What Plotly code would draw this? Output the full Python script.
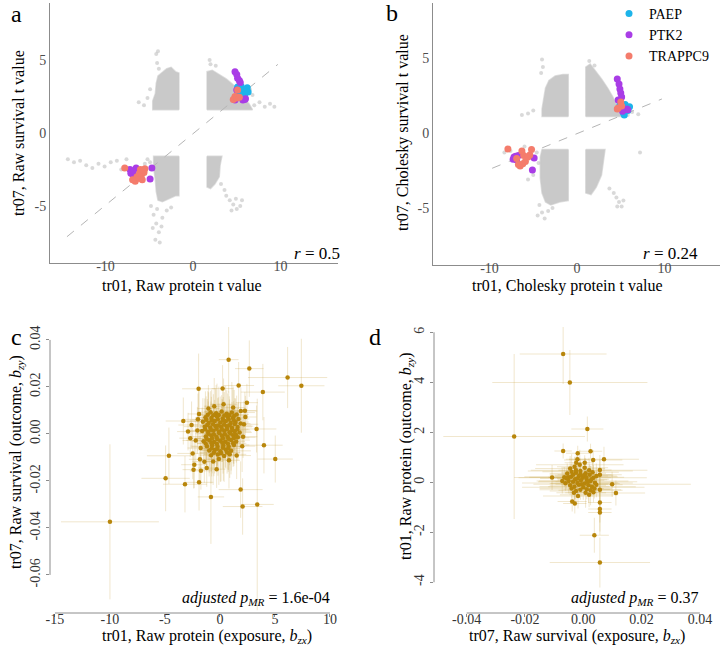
import plotly.graph_objects as go

FONT = "Liberation Serif"
W, H = 720, 648

# ---------------- Panel a: raw t values ----------------
a_block_tl = [(-1.6, 1.6), (-4.6, 1.6), (-4.6, 2.2), (-4.3, 2.7), (-4.2, 3.4), (-4.0, 3.9), (-3.6, 4.1),
              (-3.0, 4.4), (-2.5, 4.5), (-2.0, 4.2), (-1.6, 4.1)]
a_block_tr = [(1.6, 1.6), (1.6, 4.2), (2.2, 4.3), (3.0, 4.0), (3.8, 3.7), (4.6, 3.3), (5.2, 2.9),
              (5.8, 2.4), (6.4, 2.0), (6.8, 1.6)]
a_block_bl = [(-1.6, -1.6), (-4.5, -1.6), (-4.5, -2.4), (-4.3, -3.2), (-4.2, -4.0), (-4.0, -4.6),
              (-3.5, -4.7), (-2.8, -4.5), (-2.0, -4.3), (-1.6, -4.3)]
a_block_br = [(1.6, -1.6), (1.6, -3.7), (2.0, -3.8), (2.5, -3.5), (3.0, -3.0), (3.1, -2.2), (3.3, -1.6)]
a_sparse = [(-14.3, -1.8), (-13.6, -2.0), (-12.9, -1.9), (-12.2, -2.2), (-11.5, -2.4), (-10.8, -2.1),
            (-10.1, -2.3), (-9.4, -2.0), (-8.7, -1.9), (-8.2, -2.5), (-7.6, -1.8), (-5.2, -1.8),
            (-5.5, -2.1), (-4.9, -2.0), (-4.8, -5.0), (-4.5, -5.6), (-4.2, -6.2), (-3.9, -6.8),
            (-4.3, -7.3), (-3.5, -5.8), (-3.0, -5.3), (-2.5, -5.1), (-4.6, -6.5), (-3.8, -7.5),
            (-4.1, -5.2), (-3.6, -6.4), (3.8, -4.3), (4.2, -4.6), (4.6, -4.9), (5.0, -5.2), (5.4, -5.0),
            (4.4, -5.3), (5.6, -4.6), (3.6, -3.9), (3.2, -3.5), (4.9, -4.5), (7.0, 1.9), (7.6, 2.1),
            (8.2, 1.8), (8.8, 2.0), (9.3, 1.8), (6.8, 2.6), (6.5, 3.0), (2.0, 4.7), (2.6, 4.6),
            (1.9, 5.0), (-5.6, 1.9), (-6.2, 2.1), (-5.2, 2.4), (-4.9, 3.0), (-4.2, 5.4), (-4.0, 5.6),
            (-4.1, 4.8), (-3.9, 4.4)]
a_fit_x = [-14.4, 9.7]
a_fit_y = [-7.1, 4.7]
a_paep = [(5.1, 3.15), (5.6, 2.95), (6.2, 3.1), (6.3, 2.8), (5.7, 2.6), (5.3, 2.7), (5.9, 2.5), (5.5, 3.2)]
a_ptk2 = [(4.8, 4.2), (5.0, 4.0), (5.1, 3.75), (5.3, 3.6), (5.4, 3.45), (5.7, 2.26), (5.9, 2.3),
          (4.8, 2.26), (5.0, 2.95), (6.0, 2.35), (-7.0, -2.65), (-7.2, -2.5), (-6.9, -2.8),
          (-6.5, -2.4), (-4.7, -2.4), (-4.9, -3.15), (-7.1, -2.75), (-6.8, -2.6)]
a_trappc9 = [(5.1, 2.95), (4.8, 2.5), (4.6, 2.3), (5.0, 2.4), (5.3, 2.45), (-7.8, -2.4), (-6.6, -3.3),
             (-6.2, -3.1), (-5.9, -2.9), (-5.6, -2.7), (-6.0, -2.5), (-5.5, -2.45), (-5.8, -3.2),
             (-6.4, -3.0), (-6.1, -2.75), (-5.7, -2.55), (-6.9, -3.2)]

# ---------------- Panel b: Cholesky t values ----------------
b_block_tl = [(-1.0, 1.1), (-4.0, 1.1), (-4.0, 1.6), (-3.8, 2.4), (-3.6, 3.0), (-3.2, 3.5), (-2.5, 3.8),
              (-1.6, 3.9), (-1.0, 3.9)]
b_block_tr = [(1.0, 1.1), (1.0, 4.4), (1.5, 4.6), (2.2, 4.1), (2.8, 3.6), (3.5, 3.0), (4.1, 2.4),
              (4.7, 1.6), (5.0, 1.1)]
b_block_bl = [(-1.0, -1.1), (-4.0, -1.1), (-4.2, -1.6), (-4.2, -3.0), (-4.0, -4.0), (-3.6, -4.6),
              (-3.0, -4.8), (-2.0, -4.6), (-1.0, -4.5)]
b_block_br = [(1.0, -1.1), (1.0, -4.0), (1.6, -4.1), (2.2, -3.6), (2.8, -2.8), (3.0, -2.0), (3.2, -1.1)]
b_sparse = [(5.3, 1.3), (5.8, 1.2), (6.3, 1.4), (7.0, 1.25), (1.4, 4.8), (2.0, 4.5), (7.2, -1.3),
            (4.2, -4.0), (4.5, -4.3), (4.8, -4.6), (5.1, -4.9), (4.6, -4.9), (5.3, -4.5), (3.7, -3.7),
            (-4.3, -4.8), (-4.0, -5.3), (-3.7, -5.7), (-4.5, -5.5), (-3.3, -5.2), (-2.8, -5.0),
            (-4.0, 4.9), (-3.9, 4.4), (-4.1, 4.0), (-5.0, 1.5), (-5.6, 1.3), (-6.3, 1.2), (-7.6, -1.2),
            (-6.0, -0.9), (-4.6, -1.3), (-4.4, -2.0), (-5.0, -2.8), (-8.3, -1.3), (-5.6, -3.1)]
b_fit_x = [-9.7, 9.7]
b_fit_y = [-2.35, 2.27]
b_paep = [(4.9, 1.87), (5.3, 1.33), (5.6, 1.7), (5.8, 1.5), (5.4, 1.2), (5.1, 1.6), (6.0, 1.75), (5.5, 1.9)]
b_ptk2 = [(4.6, 3.6), (4.8, 3.27), (4.9, 2.93), (5.0, 2.67), (5.1, 2.4), (4.7, 2.2), (5.7, 1.6),
          (5.8, 1.55), (5.2, 1.45), (-7.2, -1.6), (-7.3, -1.75), (-6.7, -1.5), (-4.9, -1.67),
          (-5.1, -2.47), (-7.0, -1.55), (-6.9, -1.8)]
b_trappc9 = [(4.7, 1.67), (5.0, 2.07), (4.6, 1.6), (5.1, 1.8), (-7.9, -1.07), (-6.9, -1.7), (-6.3, -1.2),
             (-6.1, -1.5), (-5.4, -1.47), (-5.2, -1.1), (-6.5, -2.2), (-6.2, -2.05), (-5.9, -1.9),
             (-5.6, -1.6), (-6.7, -2.1)]

# ---------------- Panel c: MR, protein -> survival (bzx, bzy, se_x, se_y) ----------------
c_points = [
    (-10.0, -0.0374, 4.45, 0.033), (0.79, 0.0316, 0.9, 0.014), (2.67, 0.0278, 1.3, 0.012),
    (6.15, 0.0240, 3.6, 0.013), (7.40, 0.0205, 2.1, 0.020), (1.70, 0.0206, 1.4, 0.010),
    (3.90, 0.0178, 2.0, 0.012), (-1.94, 0.0192, 1.5, 0.015), (0.24, 0.0193, 1.0, 0.010),
    (2.45, 0.0133, 1.0, 0.008), (2.27, 0.0099, 1.0, 0.008), (3.33, 0.0021, 1.8, 0.010),
    (4.00, -0.0048, 1.7, 0.012), (5.03, -0.0107, 1.6, 0.010), (-3.33, 0.0055, 1.6, 0.010),
    (-4.64, -0.0093, 2.0, 0.012), (-4.94, -0.0189, 2.2, 0.014), (-3.18, -0.0214, 2.0, 0.012),
    (-2.33, -0.0131, 1.2, 0.010), (-1.90, -0.0206, 1.3, 0.012), (-0.82, -0.0268, 1.2, 0.020),
    (1.88, -0.0237, 2.0, 0.012), (2.06, -0.0309, 1.8, 0.012), (3.39, -0.0300, 1.5, 0.045),
    (-2.40, -0.0152, 1.0, 0.008), (-1.73, -0.0157, 1.0, 0.008), (-2.70, -0.0018, 1.0, 0.008),
    (-2.90, 0.0010, 1.0, 0.008), (-1.20, -0.0145, 0.8, 0.008), (-0.30, -0.0150, 0.8, 0.008),
    (-0.85, 0.0092, 1.2, 0.009), (-0.35, 0.0088, 0.8, 0.012), (0.15, 0.0095, 1.6, 0.007),
    (0.62, 0.0086, 0.9, 0.010), (1.08, 0.0091, 2.1, 0.013), (1.52, 0.0083, 1.1, 0.008),
    (-1.32, 0.0071, 0.7, 0.011), (-0.78, 0.0068, 1.4, 0.009), (-0.27, 0.0074, 1.0, 0.014),
    (0.24, 0.0066, 1.8, 0.008), (0.71, 0.0072, 0.8, 0.010), (1.18, 0.0069, 1.3, 0.012),
    (1.68, 0.0064, 1.0, 0.007), (-1.55, 0.0052, 1.5, 0.010), (-1.02, 0.0047, 0.9, 0.013),
    (-0.48, 0.0055, 2.2, 0.009), (0.03, 0.0049, 1.1, 0.011), (0.52, 0.0054, 0.7, 0.015),
    (0.98, 0.0046, 1.6, 0.008), (1.42, 0.0051, 1.2, 0.010), (1.88, 0.0044, 0.9, 0.009),
    (-1.38, 0.0031, 1.9, 0.012), (-0.88, 0.0027, 1.0, 0.008), (-0.41, 0.0034, 1.4, 0.016),
    (0.12, 0.0029, 0.8, 0.010), (0.63, 0.0033, 2.4, 0.009), (1.09, 0.0026, 1.1, 0.011),
    (1.61, 0.0030, 1.3, 0.008), (-1.62, 0.0012, 1.2, 0.010), (-1.07, 0.0008, 0.8, 0.013),
    (-0.58, 0.0014, 1.7, 0.009), (-0.08, 0.0009, 1.0, 0.012), (0.41, 0.0013, 2.0, 0.008),
    (0.88, 0.0007, 0.9, 0.014), (1.34, 0.0011, 1.5, 0.010), (1.79, 0.0006, 1.1, 0.009),
    (-1.28, -0.0011, 1.4, 0.011), (-0.79, -0.0007, 0.7, 0.008), (-0.32, -0.0013, 1.2, 0.013),
    (0.19, -0.0008, 1.9, 0.010), (0.69, -0.0012, 1.0, 0.009), (1.21, -0.0006, 0.8, 0.012),
    (1.63, -0.0014, 1.6, 0.010), (-1.49, -0.0031, 1.1, 0.009), (-0.97, -0.0027, 2.1, 0.014),
    (-0.52, -0.0034, 0.9, 0.010), (0.02, -0.0029, 1.3, 0.008), (0.49, -0.0033, 1.0, 0.011),
    (1.02, -0.0026, 1.7, 0.013), (1.48, -0.0032, 0.8, 0.009), (-1.18, -0.0052, 1.5, 0.010),
    (-0.71, -0.0048, 1.0, 0.012), (-0.22, -0.0055, 2.3, 0.008), (0.31, -0.0049, 0.9, 0.015),
    (0.79, -0.0054, 1.2, 0.010), (1.27, -0.0047, 1.4, 0.009), (-0.98, -0.0071, 0.8, 0.011),
    (-0.48, -0.0068, 1.6, 0.010), (0.04, -0.0074, 1.1, 0.013), (0.53, -0.0067, 0.9, 0.008),
    (1.01, -0.0072, 1.8, 0.010), (-0.81, -0.0091, 1.0, 0.012), (-0.19, -0.0088, 1.3, 0.009),
    (0.38, -0.0094, 0.8, 0.011), (0.89, -0.0087, 1.5, 0.010), (-1.10, 0.0082, 1.0, 0.010),
    (-0.60, 0.0079, 1.4, 0.009), (-0.10, 0.0081, 0.9, 0.012), (0.40, 0.0078, 1.2, 0.010),
    (0.85, 0.0080, 1.7, 0.008), (1.30, 0.0077, 1.0, 0.011), (-1.25, 0.0060, 1.3, 0.010),
    (-0.75, 0.0058, 0.8, 0.013), (-0.20, 0.0062, 1.9, 0.009), (0.30, 0.0057, 1.0, 0.010),
    (0.80, 0.0061, 1.2, 0.012), (1.25, 0.0059, 0.9, 0.008), (-1.15, 0.0038, 1.6, 0.011),
    (-0.62, 0.0041, 1.0, 0.009), (-0.15, 0.0036, 1.3, 0.012), (0.38, 0.0040, 0.8, 0.010),
    (0.86, 0.0037, 2.0, 0.009), (1.35, 0.0042, 1.1, 0.011), (-1.35, 0.0020, 0.9, 0.010),
    (-0.82, 0.0018, 1.5, 0.012), (-0.30, 0.0022, 1.0, 0.008), (0.18, 0.0019, 1.3, 0.013),
    (0.65, 0.0021, 0.8, 0.010), (1.12, 0.0017, 1.6, 0.009), (1.58, 0.0020, 1.0, 0.011),
    (-1.05, 0.0001, 1.2, 0.010), (-0.55, -0.0002, 0.9, 0.012), (-0.05, 0.0003, 1.8, 0.009),
    (0.45, -0.0001, 1.0, 0.011), (0.95, 0.0002, 1.3, 0.010), (1.45, -0.0003, 0.8, 0.008),
    (-1.22, -0.0021, 1.1, 0.012), (-0.72, -0.0019, 1.6, 0.010), (-0.25, -0.0022, 0.9, 0.009),
    (0.27, -0.0018, 1.2, 0.013), (0.76, -0.0021, 1.0, 0.010), (1.27, -0.0017, 1.4, 0.011),
    (-1.30, -0.0041, 0.8, 0.009), (-0.78, -0.0039, 1.3, 0.012), (-0.28, -0.0043, 1.0, 0.010),
    (0.22, -0.0038, 1.7, 0.008), (0.72, -0.0042, 0.9, 0.011), (1.20, -0.0040, 1.2, 0.010),
    (-0.75, -0.0061, 1.0, 0.012), (-0.25, -0.0063, 1.4, 0.009), (0.28, -0.0059, 0.8, 0.011),
    (0.75, -0.0062, 1.1, 0.010), (-0.55, -0.0080, 1.3, 0.010), (0.10, -0.0082, 0.9, 0.012),
    (0.65, -0.0079, 1.2, 0.009), (-2.00, 0.0062, 1.4, 0.011), (-2.20, -0.0028, 1.2, 0.010),
    (-1.82, -0.0108, 1.0, 0.010), (-1.42, -0.0118, 1.1, 0.009), (2.18, 0.0041, 1.3, 0.010),
    (2.02, -0.0052, 1.2, 0.011), (2.31, 0.0072, 1.0, 0.009), (-0.52, 0.0118, 0.9, 0.012),
    (0.33, 0.0126, 1.2, 0.011), (-1.05, 0.0108, 1.0, 0.010), (1.52, -0.0092, 1.3, 0.010),
    (0.82, -0.0112, 1.0, 0.012), (-0.62, -0.0117, 0.9, 0.010), (-2.48, -0.0083, 1.4, 0.011),
    (-2.58, 0.0038, 1.2, 0.010), (-1.90, 0.0085, 1.0, 0.011), (1.90, 0.0098, 1.5, 0.010),
    (1.20, 0.0112, 1.1, 0.009), (-0.10, -0.0107, 1.0, 0.011), (-1.75, -0.0060, 1.2, 0.010),
    (2.10, -0.0012, 1.3, 0.009), (-2.05, 0.0015, 1.1, 0.010),
]

# ---------------- Panel d: MR, survival -> protein (bzx, bzy, se_x, se_y) ----------------
d_points = [
    (-0.0069, 5.13, 0.0149, 1.20), (-0.0046, 3.99, 0.0266, 1.30), (-0.0237, 1.83, 0.0243, 3.30),
    (0.0014, 2.13, 0.0055, 0.50), (-0.0069, 1.25, 0.0030, 0.30), (-0.0019, 1.16, 0.0040, 0.30),
    (0.0025, 1.24, 0.0040, 0.30), (0.0034, 0.89, 0.0100, 0.40), (0.0071, 0.92, 0.0120, 0.50),
    (-0.0107, 0.19, 0.0130, 0.50), (-0.0061, -0.04, 0.0050, 0.30), (0.0099, -0.08, 0.0270, 0.50),
    (0.0112, -0.43, 0.0100, 0.50), (0.0057, 0.49, 0.0040, 0.60), (0.0057, 0.30, 0.0040, 0.60),
    (0.0057, -0.30, 0.0040, 0.60), (0.0057, -0.81, 0.0040, 0.80), (0.0057, -1.07, 0.0040, 0.90),
    (0.0057, -1.21, 0.0040, 0.90), (0.0038, -2.12, 0.0050, 0.70), (0.0057, -3.21, 0.0172, 1.00),
    (-0.0038, -0.77, 0.0050, 0.40), (-0.0029, -0.85, 0.0040, 0.40), (-0.0052, 0.20, 0.0040, 0.30),
    (-0.0024, 0.78, 0.0040, 0.30), (-0.0020, 0.92, 0.0040, 0.30), (0.0005, 0.78, 0.0030, 0.30),
    (-0.0045, 0.55, 0.0120, 0.50), (-0.0030, 0.62, 0.0060, 0.40), (-0.0012, 0.70, 0.0150, 0.60),
    (0.0005, 0.58, 0.0080, 0.40), (0.0020, 0.48, 0.0200, 0.50), (-0.0055, 0.35, 0.0060, 0.40),
    (-0.0040, 0.42, 0.0100, 0.70), (-0.0025, 0.38, 0.0050, 0.40), (-0.0010, 0.45, 0.0180, 0.50),
    (0.0008, 0.36, 0.0070, 0.60), (0.0022, 0.30, 0.0110, 0.40), (0.0035, 0.18, 0.0060, 0.50),
    (-0.0058, 0.15, 0.0090, 0.40), (-0.0042, 0.22, 0.0160, 0.50), (-0.0028, 0.12, 0.0060, 0.80),
    (-0.0015, 0.25, 0.0100, 0.40), (-0.0002, 0.18, 0.0220, 0.50), (0.0012, 0.10, 0.0070, 0.40),
    (0.0025, 0.05, 0.0130, 0.60), (0.0040, -0.02, 0.0080, 0.40), (-0.0050, 0.05, 0.0110, 0.50),
    (-0.0035, 0.02, 0.0060, 0.40), (-0.0020, -0.03, 0.0190, 0.60), (-0.0008, 0.08, 0.0080, 0.40),
    (0.0005, -0.05, 0.0120, 0.50), (0.0018, -0.12, 0.0060, 0.70), (0.0030, -0.18, 0.0150, 0.40),
    (0.0045, -0.10, 0.0090, 0.50), (-0.0045, -0.12, 0.0070, 0.40), (-0.0030, -0.18, 0.0120, 0.60),
    (-0.0015, -0.10, 0.0060, 0.40), (0.0000, -0.20, 0.0210, 0.50), (0.0012, -0.28, 0.0080, 0.40),
    (0.0025, -0.32, 0.0110, 0.60), (0.0038, -0.25, 0.0060, 0.40), (-0.0025, -0.35, 0.0090, 0.50),
    (-0.0010, -0.30, 0.0140, 0.40), (0.0008, -0.42, 0.0070, 0.60), (0.0020, -0.50, 0.0100, 0.50),
    (-0.0032, -0.42, 0.0060, 0.40), (-0.0018, -0.55, 0.0120, 0.50), (0.0035, -0.40, 0.0080, 0.40),
    (-0.0010, 0.32, 0.0060, 0.50), (0.0003, 0.28, 0.0100, 0.40), (-0.0020, 0.15, 0.0070, 0.60),
    (0.0010, 0.20, 0.0130, 0.40), (-0.0035, 0.30, 0.0080, 0.50), (0.0028, 0.12, 0.0060, 0.40),
    (-0.0005, -0.08, 0.0090, 0.50), (0.0015, 0.02, 0.0170, 0.40), (-0.0025, 0.48, 0.0060, 0.50),
    (-0.0040, -0.25, 0.0110, 0.40), (0.0045, 0.25, 0.0070, 0.50), (-0.0065, 0.20, 0.0120, 0.40),
    (-0.0072, 0.05, 0.0080, 0.50), (0.0032, 0.40, 0.0090, 0.40),
]

c_xticks = [-15, -10, -5, 0, 5, 10]
c_xticktext = ["-15", "-10", "-5", "0", "5", "10"]
c_yticks = [-0.06, -0.04, -0.02, 0.0, 0.02, 0.04]
c_yticktext = ["-0.06", "-0.04", "-0.02", "0.00", "0.02", "0.04"]
d_xticks = [-0.04, -0.02, 0.0, 0.02, 0.04]
d_xticktext = ["-0.04", "-0.02", "0.00", "0.02", "0.04"]
d_yticks = [-4, -2, 0, 2, 4, 6]
d_yticktext = ["-4", "-2", "0", "2", "4", "6"]
ab_xticks = [-10, 0, 10]
ab_xticktext = ["-10", "0", "10"]
ab_yticks = [-5, 0, 5]
ab_yticktext = ["-5", "0", "5"]

gene_colors = {"PAEP": "#1DB4EA", "PTK2": "#A93DE6", "TRAPPC9": "#F47C6C"}
GOLD = "#B8860B"
GOLD_ERR = "rgba(200,160,60,0.25)"
DENSE = "#C9C9C9"


def px(x):
    return x / W


def py(y):
    return 1 - y / H


fig = go.Figure()


def add_block(verts, xa, ya):
    xs = [v[0] for v in verts] + [verts[0][0]]
    ys = [v[1] for v in verts] + [verts[0][1]]
    fig.add_trace(go.Scatter(x=xs, y=ys, mode="lines", fill="toself", fillcolor=DENSE,
                             line=dict(width=1.5, color="rgba(201,201,201,0.6)"),
                             xaxis=xa, yaxis=ya, showlegend=False, hoverinfo="skip"))


for blk in (a_block_tl, a_block_tr, a_block_bl, a_block_br):
    add_block(blk, "x", "y")
for blk in (b_block_tl, b_block_tr, b_block_bl, b_block_br):
    add_block(blk, "x2", "y2")

for pts, xa, ya in ((a_sparse, "x", "y"), (b_sparse, "x2", "y2")):
    fig.add_trace(go.Scatter(x=[p[0] for p in pts], y=[p[1] for p in pts], mode="markers",
                             marker=dict(size=4, color="rgba(185,185,185,0.55)"),
                             xaxis=xa, yaxis=ya, showlegend=False, hoverinfo="skip"))

fig.add_trace(go.Scatter(x=a_fit_x, y=a_fit_y, mode="lines",
                         line=dict(color="#B5B5B5", width=1, dash="dash"),
                         xaxis="x", yaxis="y", showlegend=False, hoverinfo="skip"))
fig.add_trace(go.Scatter(x=b_fit_x, y=b_fit_y, mode="lines",
                         line=dict(color="#B5B5B5", width=1, dash="dash"),
                         xaxis="x2", yaxis="y2", showlegend=False, hoverinfo="skip"))

for name, apts, bpts in (("PAEP", a_paep, b_paep), ("PTK2", a_ptk2, b_ptk2), ("TRAPPC9", a_trappc9, b_trappc9)):
    col = gene_colors[name]
    fig.add_trace(go.Scatter(x=[p[0] for p in apts], y=[p[1] for p in apts], mode="markers",
                             marker=dict(size=7, color=col), name=name,
                             xaxis="x", yaxis="y", showlegend=False))
    fig.add_trace(go.Scatter(x=[p[0] for p in bpts], y=[p[1] for p in bpts], mode="markers",
                             marker=dict(size=7, color=col), name=name,
                             xaxis="x2", yaxis="y2", showlegend=True))

for pts, xa, ya in ((c_points, "x3", "y3"), (d_points, "x4", "y4")):
    xs = [p[0] for p in pts]
    ys = [p[1] for p in pts]
    fig.add_trace(go.Scatter(x=xs, y=ys, mode="markers", marker=dict(size=1, color="rgba(0,0,0,0)"),
                             error_x=dict(type="data", array=[p[2] for p in pts], color=GOLD_ERR,
                                          thickness=1, width=0),
                             error_y=dict(type="data", array=[p[3] for p in pts], color=GOLD_ERR,
                                          thickness=1, width=0),
                             xaxis=xa, yaxis=ya, showlegend=False, hoverinfo="skip"))
    fig.add_trace(go.Scatter(x=xs, y=ys, mode="markers", marker=dict(size=4.5, color=GOLD),
                             xaxis=xa, yaxis=ya, showlegend=False, hoverinfo="skip"))

ab_axis = dict(showgrid=False, zeroline=False, showline=True, linecolor="#8C8C8C", linewidth=1,
               ticks="", automargin=False, tickfont=dict(family=FONT, size=14, color="#4D4D4D"))
cd_axis = dict(showgrid=False, zeroline=False, showline=False, ticks="outside", ticklen=3,
               automargin=False, tickcolor="#8C8C8C", tickfont=dict(family=FONT, size=14, color="#333333"))

fig.update_layout(
    width=W, height=H, margin=dict(l=0, r=0, t=0, b=0, pad=0, autoexpand=False),
    paper_bgcolor="white", plot_bgcolor="white",
    font=dict(family=FONT, color="black"),
    xaxis=dict(domain=[px(50), px(338)], range=[-16.34, 16.57], tickvals=ab_xticks, ticktext=ab_xticktext,
               anchor="y", ticklabelstandoff=-10, **ab_axis),
    yaxis=dict(domain=[py(263), py(3)], range=[-8.9, 8.9], tickvals=ab_yticks, ticktext=ab_yticktext,
               anchor="x", **ab_axis),
    xaxis2=dict(domain=[px(433), 1.0], range=[-16.46, 16.34], tickvals=ab_xticks, ticktext=ab_xticktext,
                anchor="y2", ticklabelstandoff=-10, **ab_axis),
    yaxis2=dict(domain=[py(265), py(3)], range=[-8.8, 8.67], tickvals=ab_yticks, ticktext=ab_yticktext,
                anchor="x2", **ab_axis),
    xaxis3=dict(domain=[px(50), px(336)], range=[-15.45, 10.55], tickvals=c_xticks, ticktext=c_xticktext,
                anchor="y3", ticklabelstandoff=-10, **cd_axis),
    yaxis3=dict(domain=[py(613), py(327)], range=[-0.0762, 0.0455], tickvals=c_yticks, ticktext=c_yticktext,
                tickangle=-90, anchor="x3", **cd_axis),
    xaxis4=dict(domain=[px(434), 1.0], range=[-0.0512, 0.0469], tickvals=d_xticks, ticktext=d_xticktext,
                anchor="y4", ticklabelstandoff=-10, **cd_axis),
    yaxis4=dict(domain=[py(613), py(327)], range=[-5.23, 6.21], tickvals=d_yticks, ticktext=d_yticktext,
                tickangle=-90, anchor="x4", **cd_axis),
    legend=dict(x=px(714), y=py(-2), xanchor="right", yanchor="top", bgcolor="rgba(0,0,0,0)",
                tracegroupgap=0, font=dict(family=FONT, size=14, color="black"), itemsizing="trace"),
)

# base-R style axis lines spanning the tick range
for xa, ya, xt, yt in (("x3", "y3", c_xticks, c_yticks), ("x4", "y4", d_xticks, d_yticks)):
    fig.add_shape(type="line", xref=xa, yref=ya + " domain", x0=xt[0], x1=xt[-1], y0=0, y1=0,
                  line=dict(color="#8C8C8C", width=1))
    fig.add_shape(type="line", xref=xa + " domain", yref=ya, x0=0, x1=0, y0=yt[0], y1=yt[-1],
                  line=dict(color="#8C8C8C", width=1))


def ann(text, x, y, size, angle=0, xanchor="center"):
    fig.add_annotation(text=text, x=px(x), y=py(y), xref="paper", yref="paper", showarrow=False,
                       font=dict(family=FONT, size=size, color="black"), textangle=angle,
                       xanchor=xanchor, yanchor="middle")


ann("a", 16, 14, 24)
ann("b", 392, 13, 24)
ann("c", 16, 337, 24)
ann("d", 375, 337, 24)
ann("tr07, Raw survival t value", 18, 133, 16, -90)
ann("tr01, Raw protein t value", 182, 286, 16)
ann("tr07, Cholesky survival t value", 403, 133, 16, -90)
ann("tr01, Cholesky protein t value", 567, 286, 16)
ann("tr07, Raw survival (outcome, <i>b</i><sub><i>zy</i></sub>)", 17, 462, 16, -90)
ann("tr01, Raw protein (exposure, <i>b</i><sub><i>zx</i></sub>)", 207, 636, 16)
ann("tr01, Raw protein (outcome, <i>b</i><sub><i>zy</i></sub>)", 406, 456, 16, -90)
ann("tr07, Raw survival (exposure, <i>b</i><sub><i>zx</i></sub>)", 577, 636, 16)
ann("<i>r</i> = 0.5", 342, 254, 17, xanchor="right")
ann("<i>r</i> = 0.24", 700, 254, 17, xanchor="right")
ann("<i>adjusted p</i><sub><i>MR</i></sub> = 1.6e-04", 332, 598, 16, xanchor="right")
ann("<i>adjusted p</i><sub><i>MR</i></sub> = 0.37", 700, 598, 16, xanchor="right")

fig.write_html("out.html", config={"displayModeBar": False},
               post_script="document.body.style.margin='0px';")
